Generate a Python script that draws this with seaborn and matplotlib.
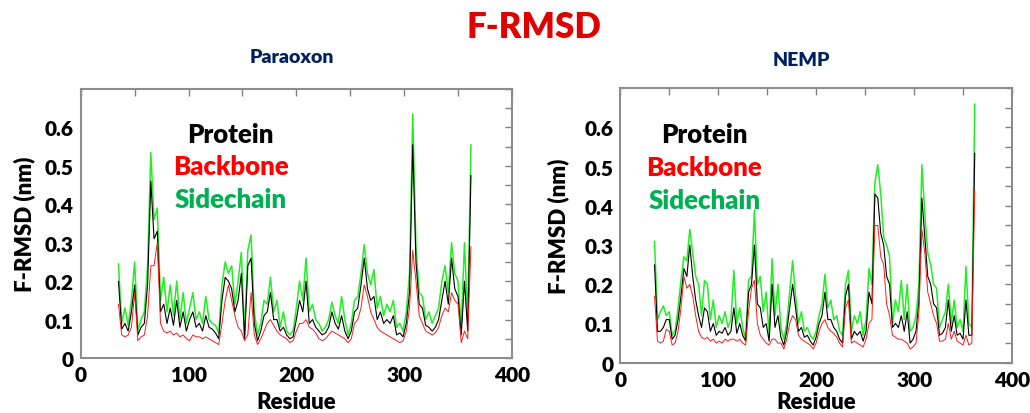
import numpy as np
import pandas as pd
import matplotlib
matplotlib.use("Agg")
import matplotlib.pyplot as plt
import seaborn as sns
from matplotlib.ticker import MultipleLocator, FixedLocator, FixedFormatter

# ---------------- data (every 3rd residue) ----------------
res_start = 35
res_step = 3

para_side = [.245, .09, .13, .085, .15, .25, .07, .10, .12, .24, .535, .36, .39, .15,
             .21, .12, .19, .11, .20, .10, .17, .09, .13, .17, .10, .12, .09, .16, .10,
             .09, .085, .065, .19, .25, .22, .24, .14, .20, .275, .06, .28, .32, .12,
             .06, .09, .15, .14, .21, .12, .15, .08, .12, .07, .06, .07, .13, .20, .15,
             .26, .12, .14, .10, .09, .07, .08, .10, .145, .11, .09, .16, .10, .06, .09,
             .15, .16, .22, .295, .22, .19, .23, .13, .16, .11, .14, .12, .15, .08, .09,
             .07, .12, .22, .635, .29, .17, .16, .10, .12, .09, .11, .13, .20, .24, .17,
             .30, .22, .20, .08, .30, .10, .555]
para_prot = [.20, .075, .09, .07, .12, .19, .06, .08, .09, .19, .46, .31, .33, .12,
             .14, .09, .13, .085, .15, .08, .12, .07, .10, .12, .08, .09, .07, .11, .08,
             .075, .065, .05, .15, .21, .20, .18, .12, .15, .22, .05, .24, .26, .09,
             .045, .07, .11, .12, .17, .10, .10, .07, .08, .06, .05, .055, .10, .15, .12,
             .20, .09, .10, .08, .07, .06, .065, .08, .12, .09, .075, .11, .07, .05, .07,
             .12, .13, .19, .26, .18, .15, .16, .10, .12, .09, .10, .09, .11, .06, .065,
             .055, .09, .17, .555, .25, .14, .13, .085, .08, .07, .08, .10, .15, .20, .14,
             .26, .18, .16, .06, .20, .07, .475]
para_back = [.14, .06, .055, .06, .08, .17, .045, .055, .06, .11, .24, .24, .30, .09,
             .07, .065, .07, .06, .065, .055, .06, .05, .045, .06, .055, .055, .05, .055, .05,
             .045, .04, .035, .09, .15, .19, .15, .11, .08, .07, .045, .06, .17, .06,
             .035, .05, .07, .09, .10, .085, .07, .06, .055, .05, .04, .045, .07, .09, .09,
             .10, .08, .075, .065, .05, .045, .05, .06, .07, .065, .06, .055, .05, .04, .05,
             .09, .10, .13, .19, .16, .12, .10, .08, .07, .065, .06, .055, .05, .045, .04,
             .045, .07, .13, .28, .20, .11, .09, .07, .065, .06, .065, .08, .11, .13, .12,
             .17, .15, .14, .04, .07, .05, .29]

nemp_side = [.31, .11, .13, .145, .12, .13, .07, .08, .14, .21, .27, .26, .34, .28,
             .22, .20, .12, .21, .20, .11, .16, .09, .12, .10, .13, .09, .11, .235, .10,
             .14, .09, .06, .21, .22, .39, .20, .22, .13, .18, .07, .265, .12, .20, .09,
             .06, .10, .18, .26, .17, .10, .13, .08, .09, .07, .06, .08, .12, .15, .225,
             .14, .16, .11, .12, .08, .07, .20, .235, .08, .12, .10, .13, .07, .11, .24,
             .20, .46, .505, .43, .32, .30, .27, .10, .16, .13, .21, .11, .20, .08, .09,
             .12, .20, .505, .38, .28, .25, .20, .19, .09, .11, .13, .20, .10, .16, .09,
             .11, .08, .245, .10, .09, .66]
nemp_prot = [.25, .08, .08, .09, .11, .11, .06, .07, .11, .17, .24, .22, .30, .22,
             .16, .12, .09, .14, .13, .08, .10, .07, .08, .075, .09, .07, .08, .14, .075,
             .10, .07, .055, .18, .20, .30, .15, .14, .09, .10, .055, .20, .09, .12, .065,
             .045, .08, .14, .20, .14, .08, .09, .065, .07, .055, .045, .065, .10, .12, .18,
             .11, .11, .09, .08, .06, .05, .17, .20, .06, .08, .07, .08, .055, .08, .18,
             .15, .43, .42, .33, .30, .22, .20, .09, .10, .09, .12, .08, .13, .05, .06,
             .08, .16, .42, .32, .22, .20, .15, .14, .07, .075, .09, .16, .08, .12, .07,
             .075, .06, .16, .07, .07, .535]
nemp_back = [.17, .055, .05, .055, .085, .08, .045, .05, .08, .14, .22, .19, .20, .17,
             .12, .08, .065, .06, .065, .055, .06, .05, .055, .05, .06, .055, .06, .06, .055,
             .06, .05, .045, .13, .19, .21, .10, .07, .06, .05, .045, .06, .06, .05, .05,
             .035, .06, .10, .12, .11, .07, .06, .055, .05, .045, .035, .05, .08, .10, .11,
             .09, .08, .075, .065, .05, .04, .14, .16, .05, .055, .05, .045, .04, .06, .10,
             .11, .35, .35, .27, .25, .15, .12, .07, .065, .06, .06, .055, .05, .035, .04,
             .05, .13, .34, .28, .18, .15, .12, .10, .055, .055, .06, .10, .06, .08, .055,
             .05, .045, .07, .045, .05, .44]

panel_titles = ["Paraoxon", "NEMP"]
series_names = ["Protein", "Backbone", "Sidechain"]
x_ticks = [0, 100, 200, 300, 400]
x_ticklabels = ["0", "100", "200", "300", "400"]
y_ticks = [0, 0.1, 0.2, 0.3, 0.4, 0.5, 0.6]
y_ticklabels = ["0", "0.1", "0.2", "0.3", "0.4", "0.5", "0.6"]


def make_df(side, prot, back):
    n = len(side)
    res = res_start + res_step * np.arange(n)
    return pd.DataFrame({"Residue": res, "Sidechain": side,
                         "Protein": prot, "Backbone": back})


dfs = [make_df(para_side, para_prot, para_back),
       make_df(nemp_side, nemp_prot, nemp_back)]

# ---------------- style ----------------
sns.set_style("white")
plt.rcParams["font.family"] = ["Lato", "DejaVu Sans"]
plt.rcParams["font.weight"] = "bold"
plt.rcParams["text.color"] = "black"
plt.rcParams["axes.labelcolor"] = "black"
plt.rcParams["xtick.labelcolor"] = "black"
plt.rcParams["ytick.labelcolor"] = "black"

fig = plt.figure(figsize=(10.30, 4.14), dpi=100)
axes = [fig.add_axes([0.0784, 0.1329, 0.4186, 0.6497]),
        fig.add_axes([0.6022, 0.1215, 0.3803, 0.6628])]

line_colors = {"Sidechain": "#22EE22", "Protein": "#000000", "Backbone": "#FF1A1A"}
line_widths = {"Sidechain": 1.1, "Protein": 0.8, "Backbone": 0.7}
label_colors = {"Protein": "#000000", "Backbone": "#FF0000", "Sidechain": "#00B050"}
legend_x = [139, 86]
legend_y = [0.583, 0.499, 0.415]
title_pos = [(0.283, 0.86), (0.778, 0.853)]
ylabel_pads = [7, 11]
xlabel_pads = [5, 1.5]

for i, (ax, df) in enumerate(zip(axes, dfs)):
    for name in ["Sidechain", "Protein", "Backbone"]:
        sns.lineplot(data=df, x="Residue", y=name, ax=ax, color=line_colors[name],
                     linewidth=line_widths[name], zorder=3 if name != "Sidechain" else 2)
    ax.set_xlim(0, 400)
    ax.set_ylim(0, 0.7)
    ax.xaxis.set_major_locator(FixedLocator(x_ticks))
    ax.xaxis.set_major_formatter(FixedFormatter(x_ticklabels))
    ax.xaxis.set_minor_locator(MultipleLocator(50))
    ax.yaxis.set_major_locator(FixedLocator(y_ticks))
    ax.yaxis.set_major_formatter(FixedFormatter(y_ticklabels))
    ax.yaxis.set_minor_locator(MultipleLocator(0.05))
    ax.tick_params(which="both", direction="in", top=True, right=True,
                   color="#808080", width=1.0, labelcolor="black")
    ax.tick_params(which="major", length=5, labelsize=15, pad=5)
    ax.tick_params(which="minor", length=5)
    for lbl in ax.get_xticklabels() + ax.get_yticklabels():
        lbl.set_fontweight("heavy")
    for sp in ax.spines.values():
        sp.set_color("#8C8C8C")
        sp.set_linewidth(1.5)
    ax.set_xlabel("Residue", fontsize=16, fontweight="heavy", labelpad=xlabel_pads[i],
                  color="black")
    ax.set_ylabel("F-RMSD (nm)", fontsize=16, fontweight="heavy",
                  labelpad=ylabel_pads[i], color="black")
    for name, yy in zip(series_names, legend_y):
        ax.text(legend_x[i], yy, name, color=label_colors[name], fontsize=18.5,
                fontweight="heavy", ha="center", va="center")
    fig.text(title_pos[i][0], title_pos[i][1], panel_titles[i], color="#002060",
             fontsize=14, fontweight="heavy", ha="center", va="center")

fig.text(0.518, 0.934, "F-RMSD", color="#E00000", fontsize=25, fontweight="heavy",
         ha="center", va="center")

fig.savefig("out.png", dpi=100)
